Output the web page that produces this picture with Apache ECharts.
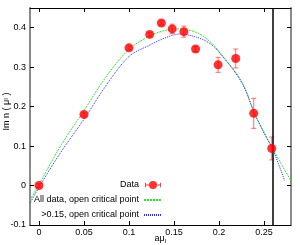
<!DOCTYPE html>
<html><head><meta charset="utf-8">
<script src="https://cdn.jsdelivr.net/npm/echarts@6/dist/echarts.min.js"></script>
<style>html,body{margin:0;padding:0;background:#fff}#c{width:300px;height:245px}</style>
</head><body><div id="c"></div>
<script>
// tick positions
const xTicks = [0, 0.05, 0.1, 0.15, 0.2, 0.25];
const yTicks = [-0.1, 0, 0.1, 0.2, 0.3, 0.4];
// measured data (with y error)
const dataX   = [0, 0.05, 0.1, 0.123, 0.136, 0.148, 0.161, 0.174, 0.199, 0.2186, 0.2386, 0.2586];
const dataY   = [0, 0.18, 0.349, 0.383, 0.412, 0.397, 0.39, 0.346, 0.306, 0.322, 0.183, 0.094];
const dataErr = [0.004, 0.004, 0.005, 0.005, 0.005, 0.012, 0.014, 0.006, 0.019, 0.024, 0.038, 0.029];
// fit: all data
const fitAllX = [-0.01, 0, 0.025, 0.05, 0.075, 0.1, 0.123, 0.14, 0.155, 0.175, 0.19, 0.2, 0.225, 0.24, 0.25, 0.26, 0.28];
const fitAllY = [-0.037, 0.003, 0.104, 0.19, 0.277, 0.345, 0.379, 0.393, 0.397, 0.388, 0.365, 0.34, 0.264, 0.18, 0.136, 0.092, 0.012];
// fit: >0.15
const fitHiX = [-0.01, 0, 0.025, 0.05, 0.075, 0.1, 0.123, 0.14, 0.156, 0.175, 0.19, 0.2, 0.225, 0.24, 0.25, 0.26, 0.2728];
const fitHiY = [-0.045, -0.004, 0.087, 0.168, 0.255, 0.327, 0.356, 0.374, 0.384, 0.376, 0.36, 0.338, 0.262, 0.18, 0.133, 0.09, 0.013];
// critical point marker
const critX = [0.26];

const names = ['Data', 'All data, open critical point', '>0.15, open critical point'];

const FONT = "Arial, 'Liberation Sans', Helvetica, sans-serif";
const chart = echarts.init(document.getElementById('c'), null, {renderer: 'canvas'});

const zip = (a, b) => a.map((v, i) => [v, b[i]]);
const errData = dataX.map((v, i) => [v, dataY[i], dataErr[i]]);

const dataIcon = 'path://M0,4.5L18,4.5L18,5.5L0,5.5Z M0,2.5L1,2.5L1,7.5L0,7.5Z M17,2.5L18,2.5L18,7.5L17,7.5Z M13.5,5A4.5,4.5,0,1,1,4.5,5A4.5,4.5,0,1,1,13.5,5Z';

const xBase = {
  type: 'value', min: -0.01, max: 0.28,
  splitLine: {show: false},
  axisLine: {show: true, onZero: false, lineStyle: {color: '#000', width: 1}},
  axisTick: {show: true, inside: true, length: 4, customValues: xTicks, lineStyle: {color: '#000'}},
};
const yBase = {
  type: 'value', min: -0.1, max: 0.45,
  splitLine: {show: false},
  axisLine: {show: true, onZero: false, lineStyle: {color: '#8a8a8a', width: 2}},
  axisTick: {show: true, inside: true, length: 4, customValues: yTicks, lineStyle: {color: '#000'}},
};

chart.setOption({
  animation: false,
  backgroundColor: '#fff',
  textStyle: {fontFamily: FONT},
  grid: {left: 30, top: 8, right: 9, bottom: 20, containLabel: false, outerBoundsMode: 'none'},
  legend: {
    orient: 'vertical', align: 'right', right: 137, top: 179.5, padding: 0,
    itemWidth: 18, itemHeight: 8, itemGap: 4,
    textStyle: {fontSize: 9, color: '#000', fontFamily: FONT, lineHeight: 11},
    data: [
      {name: names[0], icon: dataIcon, itemStyle: {color: '#ff0000'}},
      {name: names[1], itemStyle: {opacity: 0}},
      {name: names[2], itemStyle: {opacity: 0}}
    ]
  },
  xAxis: [
    Object.assign({}, xBase, {
      position: 'bottom',
      axisLabel: {show: true, customValues: xTicks, fontSize: 9, color: '#000', margin: 3, fontFamily: FONT},
      name: 'aμ{s|I}', nameLocation: 'middle', nameGap: 9, nameMoveOverlap: false,
      nameTextStyle: {fontSize: 9, color: '#000', fontFamily: FONT, verticalAlign: 'top',
        rich: {s: {fontSize: 6, verticalAlign: 'bottom', padding: [4, 0, 0, 0], color: '#000'}}}
    }),
    Object.assign({}, xBase, {position: 'top', axisLabel: {show: false}})
  ],
  yAxis: [
    Object.assign({}, yBase, {
      position: 'left',
      axisLabel: {show: true, customValues: yTicks, fontSize: 9, color: '#000', margin: 4, fontFamily: FONT},
      name: 'Im n ( μ{s|I} )', nameLocation: 'middle', nameGap: 19, nameMoveOverlap: false,
      nameTextStyle: {fontSize: 9, color: '#000', fontFamily: FONT, padding: [0, 0, 0, 10],
        rich: {s: {fontSize: 6, color: '#000'}}}
    }),
    Object.assign({}, yBase, {position: 'right', axisLabel: {show: false}})
  ],
  series: [
    {
      name: names[1], type: 'line', data: zip(fitAllX, fitAllY), smooth: 0.35,
      symbol: 'none', z: 3,
      lineStyle: {color: '#2fe62f', width: 1, type: [2, 1]},
      itemStyle: {color: '#2fe62f'}
    },
    {
      name: names[2], type: 'line', data: zip(fitHiX, fitHiY), smooth: 0.35,
      symbol: 'none', z: 3,
      lineStyle: {color: '#2a2aff', width: 1, type: [1, 1]},
      itemStyle: {color: '#2a2aff'},
      markLine: {
        silent: true, symbol: ['none', 'none'], label: {show: false},
        lineStyle: {color: '#000', width: 1.5, type: 'solid'},
        data: critX.map(v => ({xAxis: v}))
      }
    },
    {
      type: 'custom', name: 'err', data: errData, z: 4,
      renderItem: function (params, api) {
        const x = api.value(0), y = api.value(1), e = api.value(2);
        const t = api.coord([x, y + e]), b = api.coord([x, y - e]);
        const w = 2.5;
        const st = {stroke: '#ff6a6a', lineWidth: 1};
        return {type: 'group', children: [
          {type: 'line', shape: {x1: t[0], y1: t[1], x2: b[0], y2: b[1]}, style: st},
          {type: 'line', shape: {x1: t[0] - w, y1: t[1], x2: t[0] + w, y2: t[1]}, style: st},
          {type: 'line', shape: {x1: b[0] - w, y1: b[1], x2: b[0] + w, y2: b[1]}, style: st}
        ]};
      }
    },
    {
      name: names[0], type: 'scatter', data: zip(dataX, dataY), z: 5,
      symbol: 'circle', symbolSize: 9,
      itemStyle: {color: '#ff0000'}
    }
  ]
});
</script>
</body></html>
